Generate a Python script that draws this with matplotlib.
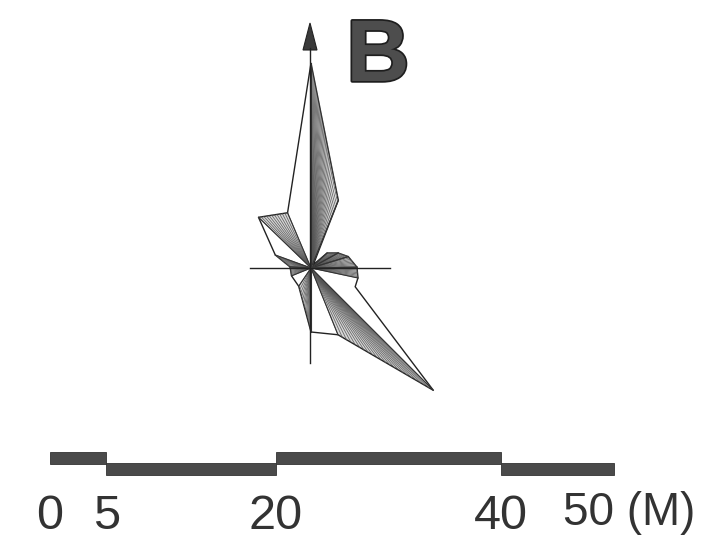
import numpy as np
import matplotlib.pyplot as plt
import matplotlib.patheffects as pe
from matplotlib.patches import Polygon, Rectangle

# rose outline: azimuth (deg, clockwise from north) and relative length
azimuth = [0, 22, 35, 47, 61, 73, 89, 102, 113, 135, 158, 180, 214, 248, 273, 290, 314, 337]
length = [20.5, 7.3, 0.4, 2.2, 3.1, 3.9, 4.6, 4.8, 4.8, 17.3, 7.2, 6.4, 2.2, 2.1, 2.1, 3.8, 7.3, 6.0]
# 1 = hatched sector between vertex i and i+1, 0 = blank
hatched = [1, 0, 0, 1, 1, 1, 1, 0, 0, 1, 0, 1, 0, 1, 1, 0, 1, 0]

# scale bar (metres)
bar_edges = [0, 5, 20, 40, 50]
bar_labels = ['0', '5', '20', '40', '50 (M)']

W, H = 702, 551
cx, cy = 311, 268     # rose centre in pixels
rscale = 10.0         # pixels per length unit
bx0, bpx = 50, 11.28  # scale bar origin and pixels per metre

fig = plt.figure(figsize=(W / 100, H / 100), dpi=100)
ax = fig.add_axes([0, 0, 1, 1])
ax.set_xlim(0, W)
ax.set_ylim(H, 0)
ax.axis('off')

az = np.radians(azimuth)
r = np.array(length) * rscale
px = cx + r * np.sin(az)
py = cy - r * np.cos(az)

n = len(px)
for i in range(n):
    j = (i + 1) % n
    if hatched[i]:
        ax.add_patch(Polygon([[cx, cy], [px[i], py[i]], [px[j], py[j]]], closed=True,
                             facecolor='#d8d8d8', edgecolor='none'))
        seg = np.hypot(px[j] - px[i], py[j] - py[i])
        k = int(seg / 7) + 8
        for t in np.linspace(0, 1, k):
            ex = px[i] + t * (px[j] - px[i])
            ey = py[i] + t * (py[j] - py[i])
            ax.plot([cx, ex], [cy, ey], color='#555555', lw=0.6, alpha=0.85)
        ax.plot([cx, px[i]], [cy, py[i]], color='#333333', lw=0.8)
        ax.plot([cx, px[j]], [cy, py[j]], color='#333333', lw=0.8)

ax.add_patch(Polygon(np.column_stack([px, py]), closed=True, fill=False,
                     edgecolor='#222222', lw=1.0))

# cross hairs and north arrow
ax.plot([250, 390], [cy, cy], color='#222222', lw=1.0)
ax.plot([310, 310], [48, 363], color='#222222', lw=1.0)
ax.add_patch(Polygon([[303, 50], [317, 50], [310, 23]], closed=True,
                     facecolor='#3a3a3a', edgecolor='#222222', lw=0.8))

ax.text(378, 81, 'B', fontsize=63, fontweight='bold', family='Liberation Sans',
        color='#4d4d4d', ha='center', va='baseline',
        path_effects=[pe.withStroke(linewidth=2.5, foreground='#1e1e1e')])

# scale bar
for i in range(len(bar_edges) - 1):
    x0 = bx0 + bar_edges[i] * bpx
    x1 = bx0 + bar_edges[i + 1] * bpx
    y0 = 452 if i % 2 == 0 else 463
    ax.add_patch(Rectangle((x0, y0), x1 - x0, 12, facecolor='#4a4a4a',
                           edgecolor='#333333', lw=0.6))

label_y = [529, 529, 529, 529, 525]
for v, lab, ly in zip(bar_edges, bar_labels, label_y):
    x = bx0 + v * bpx
    if lab.endswith('(M)'):
        ax.text(x - 51, ly, lab, fontsize=33, family='Liberation Sans',
                color='#333333', ha='left', va='baseline')
    else:
        ax.text(x, ly, lab, fontsize=35, family='Liberation Sans',
                color='#333333', ha='center', va='baseline')

fig.savefig('out.png', dpi=100, facecolor='white')
